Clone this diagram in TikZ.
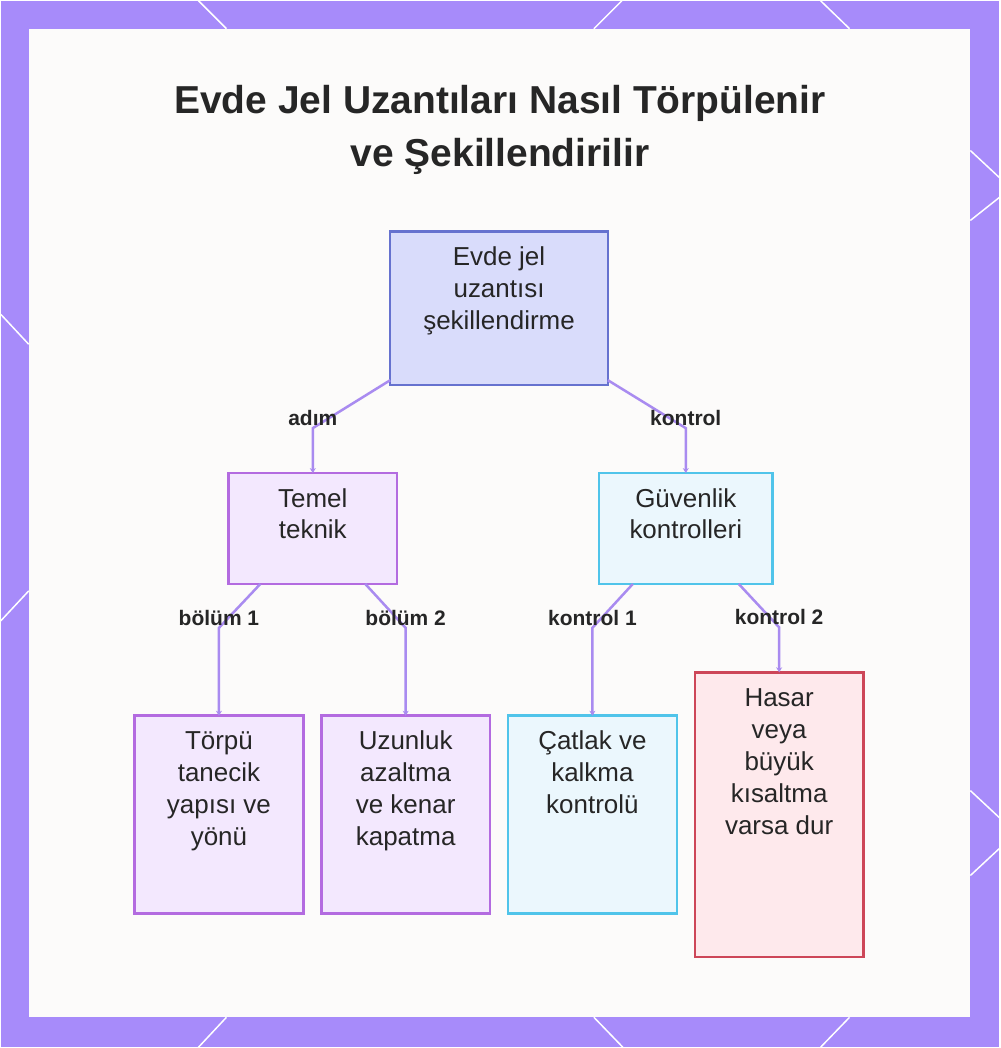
\documentclass[tikz,border=0pt]{standalone}
\usepackage{fontspec}
\setmainfont{Liberation Sans}
\usepackage{tikz}
\usetikzlibrary{positioning}
\usetikzlibrary{arrows.meta}
\definecolor{frame}{HTML}{A78BFA}
\definecolor{panel}{HTML}{FCFBFA}
\definecolor{ink}{HTML}{262626}
\definecolor{rootline}{HTML}{6672CF}
\definecolor{rootfill}{HTML}{D9DCFB}
\definecolor{stepline}{HTML}{B36BE0}
\definecolor{stepfill}{HTML}{F3E8FE}
\definecolor{checkline}{HTML}{50C4EA}
\definecolor{checkfill}{HTML}{EBF7FD}
\definecolor{stopline}{HTML}{CD4658}
\definecolor{stopfill}{HTML}{FEE9EC}
\definecolor{linkcol}{HTML}{A98BF0}

% text block pinned to the top of a box: width, height, lines
\newcommand{\boxtext}[3]{\parbox[c][#2pt][t]{#1pt}{\centering\vspace*{9pt}\rule{0pt}{25pt}#3}}

\begin{document}
\begin{tikzpicture}[x=1pt, y=-1pt,
    every node/.style = {outer sep=0pt, inner sep=0pt, text=ink},
    card/.style = {draw, rectangle, line width=2.5pt, font=\fontsize{26}{32}\selectfont},
    rootcard/.style = {card, draw=rootline, fill=rootfill},
    stepcard/.style = {card, draw=stepline, fill=stepfill},
    checkcard/.style = {card, draw=checkline, fill=checkfill},
    stopcard/.style = {card, draw=stopline, fill=stopfill},
    link/.style = {draw=linkcol, line width=2.5pt, -{Stealth[length=5pt, width=6pt]}},
    lbl/.style = {font=\fontsize{21}{25}\bfseries, yshift=10pt},
    zig/.style = {draw=white, line width=1.5pt}
    ]
    \fill[frame] (0,0) rectangle (1000,1048);
    \fill[panel] (28,28) rectangle (971,1018);
    % white strokes on the frame
    \draw[zig] (198,0) -- (226,28);
    \draw[zig] (622,0) -- (594,28);
    \draw[zig] (821,0) -- (850,28);
    \draw[zig] (226,1018) -- (198,1048);
    \draw[zig] (594,1018) -- (623,1048);
    \draw[zig] (850,1018) -- (821,1048);
    \draw[zig] (0,314) -- (28,344);
    \draw[zig] (28,591) -- (0,621);
    \draw[zig] (971,150) -- (1000,177);
    \draw[zig] (1000,197) -- (971,220);
    \draw[zig] (971,791) -- (1000,818);
    \draw[zig] (1000,849) -- (971,876);

    \node[font=\fontsize{39}{53}\bfseries, align=center, anchor=north] (t) at (500,85) {Evde Jel Uzantıları Nasıl Törpülenir\\ve Şekillendirilir};

    \node[rootcard] (1) at (499,308) {\boxtext{218}{154}{Evde jel\\uzantısı\\şekillendirme}};
    \node[stepcard] (2) at (312.5,528.5) {\boxtext{169}{111}{Temel\\teknik}};
    \node[checkcard] (3) [right=202pt of 2] {\boxtext{174}{111}{Güvenlik\\kontrolleri}};
    \node[stepcard] (4) at (218.5,815) {\boxtext{169}{198}{Törpü\\tanecik\\yapısı ve\\yönü}};
    \node[stepcard] (5) [right=18pt of 4] {\boxtext{169}{198}{Uzunluk\\azaltma\\ve kenar\\kapatma}};
    \node[checkcard] (6) [right=18pt of 5] {\boxtext{169}{198}{Çatlak ve\\kalkma\\kontrolü}};
    \node[stopcard] (7) [right=18pt of 6] {\boxtext{169}{285}{Hasar\\veya\\büyük\\kısaltma\\varsa dur}};

    \draw[link] ([yshift=5pt]1.south west) -- ([yshift=45pt]2.north) node[lbl] (2a) {adım} -- (2.north);
    \draw[link] ([yshift=5pt]1.south east) -- ([yshift=45pt]3.north) node[lbl] (3a) {kontrol} -- (3.north);
    \draw[link] ([xshift=32pt]2.south west) -- ([yshift=88pt]4.north) node[lbl] (4a) {bölüm 1} -- (4.north);
    \draw[link] ([xshift=-32pt]2.south east) -- ([yshift=88pt]5.north) node[lbl] (5a) {bölüm 2} -- (5.north);
    \draw[link] ([xshift=34pt]3.south west) -- ([yshift=88pt]6.north) node[lbl] (6a) {kontrol 1} -- (6.north);
    \draw[link] ([xshift=-34pt]3.south east) -- ([yshift=45pt]7.north) node[lbl] (7a) {kontrol 2} -- (7.north);
\end{tikzpicture}
\end{document}
